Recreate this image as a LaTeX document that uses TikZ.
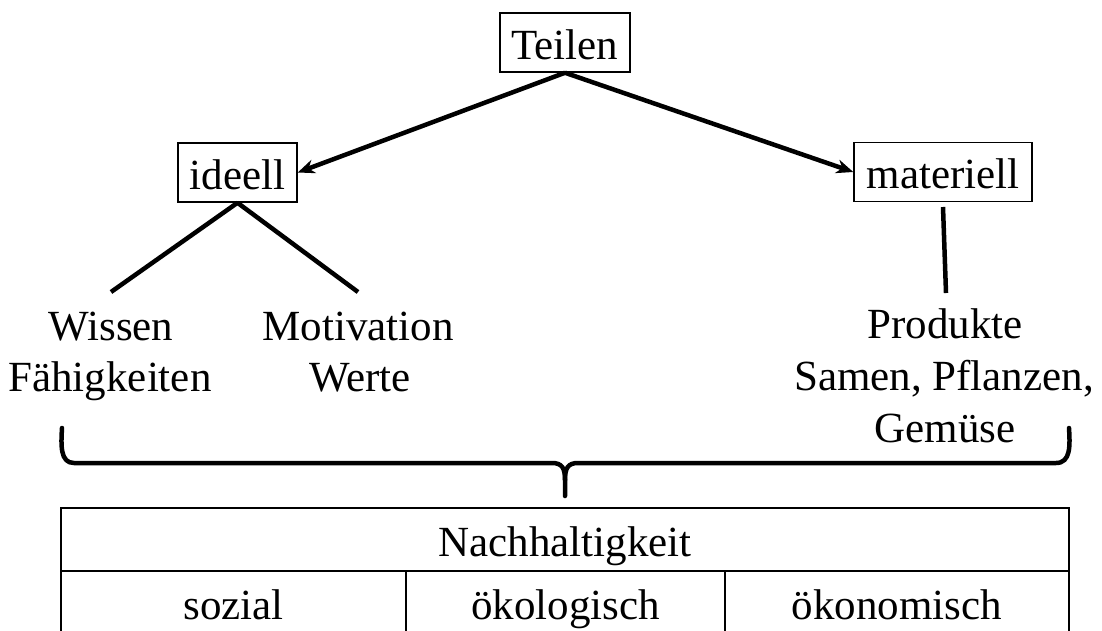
\documentclass[tikz,border=0pt]{standalone}
\usepackage{fontspec}
\setmainfont{Liberation Serif}
\usetikzlibrary{arrows.meta}
\begin{document}
\begin{tikzpicture}[x=1pt,y=-1pt,
  every node/.style={font=\fontsize{43}{52}\selectfont},
  box/.style={draw,line width=1.5pt,inner sep=0pt,text height=36pt,text depth=3pt,minimum height=59pt},
  cell/.style={draw,line width=2pt,inner sep=0pt,text height=36pt,text depth=3pt,minimum height=63pt},
  txt/.style={anchor=base,inner sep=0pt},
  thick line/.style={line width=4.5pt},
  arr/.style={line width=4.5pt,-{Stealth[length=17pt,width=14pt]}},
  bracepath/.style={line width=4.5pt,line cap=round,line join=round}]
\useasboundingbox (0,0) rectangle (1102,630);
% boxes
\node[box,minimum width=130pt] (T) at (565,42.5) {Teilen};
\node[box,minimum width=119pt] (I) at (237.5,172.5) {ideell};
\node[box,minimum width=178pt] (M) at (943,172) {materiell};
% arrows
\draw[arr] (T.south) -- (I.east);
\draw[arr] (T.south) -- (M.west);
% branch lines
\coordinate (wl) at (111,292);
\coordinate (ml) at (358,292);
\coordinate (m1) at (943,207);
\coordinate (m2) at (946,293);
\draw[thick line] (I.south) -- (wl);
\draw[thick line] (I.south) -- (ml);
\draw[thick line] (m1) -- (m2);
% texts
\node[txt] (w1) at (111,340) {Wissen};
\node[txt] (w2) at (110,391) {Fähigkeiten};
\node[txt] (v1) at (358,340) {Motivation};
\node[txt] (v2) at (360,391) {Werte};
\node[txt] (p1) at (945,338) {Produkte};
\node[txt] (p2) at (944,390) {Samen, Pflanzen,};
\node[txt] (p3) at (945,442) {Gemüse};
% brace
\draw[bracepath] (62,428) .. controls (61,445) and (60,463) .. (74,463) -- (552,463)
  .. controls (562,463) and (565,468) .. (565,480) -- (565,496);
\draw[bracepath] (565,480) .. controls (565,468) and (568,463) .. (578,463) -- (1056,463)
  .. controls (1071,463) and (1070,445) .. (1069,428);
% table
\node[cell,minimum width=1008pt] (N) at (565,539.5) {Nachhaltigkeit};
\node[cell,minimum width=345pt] (s) at (233.5,602.5) {sozial};
\node[cell,minimum width=319pt] (e) at (565.5,602.5) {ökologisch};
\node[cell,minimum width=344pt] (o) at (897,602.5) {ökonomisch};
\end{tikzpicture}
\end{document}
